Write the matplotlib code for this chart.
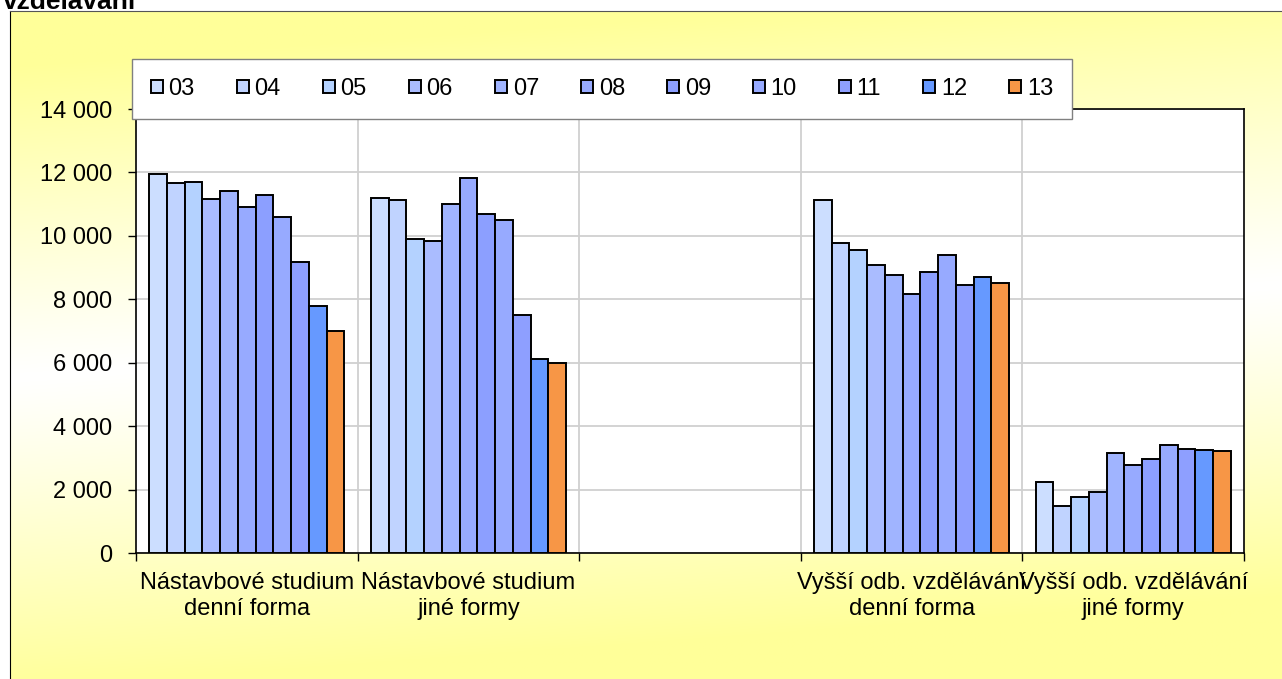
import numpy as np
import matplotlib
matplotlib.use('Agg')
import matplotlib.pyplot as plt
from matplotlib.ticker import FuncFormatter, FixedLocator

plt.rcParams['font.family'] = ['Liberation Sans', 'DejaVu Sans']

# data
categories = ['Nástavbové studium\ndenní forma', 'Nástavbové studium\njiné formy', '',
              'Vyšší odb. vzdělávání\ndenní forma', 'Vyšší odb. vzdělávání\njiné formy']
years = ['03', '04', '05', '06', '07', '08', '09', '10', '11', '12', '13']
nast_denni = [11940, 11660, 11700, 11160, 11400, 10900, 11300, 10600, 9170, 7780, 7010]
nast_jine = [11190, 11130, 9910, 9840, 11010, 11810, 10690, 10510, 7500, 6120, 5990]
empty_cat = [np.nan] * 11
vos_denni = [11130, 9780, 9550, 9090, 8780, 8180, 8860, 9410, 8460, 8700, 8520]
vos_jine = [2240, 1480, 1760, 1910, 3150, 2780, 2970, 3400, 3290, 3240, 3230]
year_colors = ['#CCDEFF', '#C0D3FF', '#B4D2FF', '#AABCFF', '#A0B4FF', '#97AAFF',
               '#8C9FFF', '#97AAFF', '#8E9FFF', '#6699FF', '#F79646']
y_ticks = [0, 2000, 4000, 6000, 8000, 10000, 12000, 14000]

values = np.array([nast_denni, nast_jine, empty_cat, vos_denni, vos_jine])

W, H = 1282, 679
fig = plt.figure(figsize=(W / 100, H / 100), dpi=100)

# yellow gradient chart area
bg = fig.add_axes([10 / W, 0, 1 - 10 / W, (H - 11) / H], zorder=0)
yy, xx = np.mgrid[0:1:300j, 0:1:300j]
centre = 0.55 - 0.14 * xx
t = np.clip(np.abs(yy - centre) / 0.47, 0, 1) ** 1.1
yellow = np.array([1.0, 1.0, 0.6])
img = 1 - t[..., None] * (1 - yellow)
bg.imshow(img, extent=[0, 1, 0, 1], aspect='auto', origin='upper')
bg.set_xlim(0, 1)
bg.set_ylim(0, 1)
bg.set_xticks([])
bg.set_yticks([])
for side in ['right', 'bottom']:
    bg.spines[side].set_visible(False)
bg.spines['left'].set_color('black')
bg.spines['top'].set_color('#555555')

# second line of the chart title, cut by the top edge as in the source
fig.text(3 / W, 1 - 9 / H, 'vzdělávání', fontsize=19, fontweight='bold', va='baseline', ha='left')

ax = fig.add_axes([136 / W, 1 - 553 / H, (1244 - 136) / W, (553 - 109) / H], zorder=2)
ax.set_facecolor('white')

n = len(years)
bw = 0.0801
x = np.arange(len(categories))
handles = []
for i, (yr, col) in enumerate(zip(years, year_colors)):
    b = ax.bar(x + (i - (n - 1) / 2) * bw, values[:, i], width=bw, color=col,
               edgecolor='black', linewidth=1.4, label=yr, zorder=3)
    handles.append(b)

ax.set_xlim(-0.5, len(categories) - 0.5)
ax.set_ylim(0, 14000)
ax.set_yticks(y_ticks)
ax.yaxis.set_major_formatter(FuncFormatter(lambda v, p: f'{int(v):,}'.replace(',', ' ')))
ax.tick_params(axis='y', direction='out', length=6, width=1, pad=11, labelsize=17)

bounds = np.arange(-0.5, len(categories), 1.0)
ax.xaxis.set_major_locator(FixedLocator(bounds))
ax.set_xticklabels([''] * len(bounds))
ax.xaxis.set_minor_locator(FixedLocator(x))
ax.set_xticklabels(categories, minor=True)
ax.tick_params(axis='x', which='major', direction='out', length=6, width=1)
ax.tick_params(axis='x', which='minor', length=0, pad=14, labelsize=17)
for lbl in ax.get_xticklabels(minor=True):
    lbl.set_linespacing(1.2)

ax.grid(axis='y', color='#D0D0D0', linewidth=1.3, zorder=0)
for b in bounds[1:-1]:
    ax.axvline(b, color='#D0D0D0', linewidth=1.3, zorder=0)
ax.set_axisbelow(True)
for s in ax.spines.values():
    s.set_color('black')
    s.set_linewidth(1.2)

leg = fig.legend(handles=handles, labels=years, loc='center', ncol=n,
                 bbox_to_anchor=(132 / W, 1 - 120 / H, 940 / W, 62 / H),
                 bbox_transform=fig.transFigure, mode='expand', fontsize=17,
                 handlelength=0.5, handleheight=0.5, handletextpad=0.25,
                 borderaxespad=0, fancybox=False, framealpha=1, borderpad=0.8)
leg.get_frame().set_edgecolor('#808080')
leg.get_frame().set_linewidth(1.0)
leg.set_zorder(5)

fig.savefig('out.png', dpi=100)
